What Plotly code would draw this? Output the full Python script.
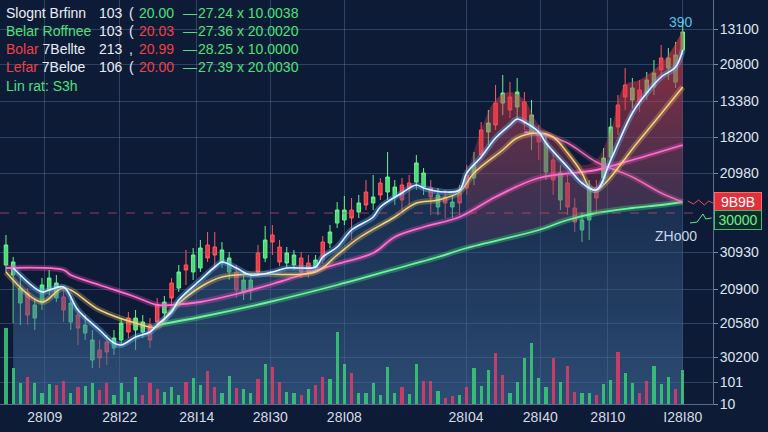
import plotly.graph_objects as go

# ---------------------------------------------------------------- data
# candles (index on x, price on y)
opens = [139, 129, 101, 111, 86, 101, 114, 106, 107, 82,
         89, 71, 44, 54, 62, 56, 64, 86, 74, 72,
         79, 99, 91, 121, 116, 139, 132, 136, 159, 157,
         141, 132, 132, 112, 114, 151, 146, 169, 157, 141,
         139, 146, 141, 136, 162, 161, 181, 184, 194, 192,
         212, 201, 221, 212, 207, 219, 221, 222, 217, 216,
         197, 207, 197, 211, 229, 226, 274, 272, 301, 301,
         307, 297, 302, 271, 272, 232, 244, 204, 221, 196,
         174, 184, 216, 226, 247, 299, 319, 304, 314, 311,
         317, 346, 336, 322, 354]
closes = [159, 142, 116, 89, 99, 119, 126, 121, 94, 101,
          76, 79, 64, 46, 52, 66, 81, 72, 86, 82,
          64, 82, 102, 106, 132, 134, 149, 156, 146, 149,
          154, 146, 114, 124, 124, 132, 164, 162, 142, 151,
          149, 132, 132, 144, 144, 172, 194, 194, 186, 201,
          199, 207, 209, 227, 217, 204, 216, 241, 231, 207,
          209, 201, 202, 201, 216, 239, 249, 281, 279, 311,
          294, 312, 281, 289, 262, 261, 224, 231, 197, 182,
          184, 216, 206, 246, 277, 277, 307, 316, 302, 324,
          331, 334, 346, 349, 372]
highs = [169, 147, 129, 116, 106, 126, 134, 129, 114, 108,
         96, 89, 74, 64, 69, 74, 86, 92, 94, 89,
         86, 106, 108, 126, 139, 154, 156, 164, 172, 172,
         162, 152, 139, 132, 130, 159, 178, 179, 164, 157,
         154, 152, 149, 149, 168, 179, 202, 208, 206, 209,
         224, 229, 226, 252, 224, 226, 229, 249, 236, 224,
         216, 214, 209, 219, 239, 252, 282, 294, 319, 329,
         322, 326, 312, 304, 279, 269, 254, 239, 229, 206,
         192, 224, 224, 256, 286, 309, 336, 326, 324, 332,
         344, 359, 356, 362, 384]
lows = [132, 81, 79, 79, 74, 94, 109, 102, 82, 74,
        59, 64, 36, 36, 39, 49, 59, 66, 54, 66,
        56, 76, 86, 99, 112, 119, 124, 132, 142, 136,
        136, 124, 106, 104, 104, 128, 142, 149, 138, 136,
        134, 126, 126, 132, 140, 156, 176, 179, 164, 186,
        194, 194, 204, 204, 199, 194, 199, 214, 209, 189,
        189, 186, 186, 189, 209, 219, 244, 259, 274, 289,
        286, 284, 274, 254, 244, 224, 209, 194, 189, 172,
        162, 164, 192, 219, 242, 269, 294, 296, 292, 304,
        309, 326, 324, 316, 349]
candle_x = list(range(len(opens)))

volumes = [76, 36, 21, 27, 21, 11, 20, 19, 23, 11,
           17, 18, 21, 14, 21, 9, 21, 12, 27, 9,
           21, 15, 12, 17, 9, 22, 26, 19, 33, 17,
           11, 28, 16, 15, 11, 25, 40, 37, 22, 12,
           11, 9, 15, 19, 27, 25, 72, 40, 31, 11,
           11, 21, 9, 37, 11, 17, 10, 40, 23, 23,
           13, 6, 8, 9, 17, 36, 18, 34, 51, 29,
           11, 22, 46, 61, 26, 17, 46, 22, 38, 12,
           11, 11, 9, 20, 24, 52, 31, 21, 11, 23,
           38, 20, 27, 15, 34]
volume_side = list("GGGRGGGRRG" "RGGRRGGGGR" "RRGGGRGGRR" "GGRGGRGRRG" "GRGRRGGGRG"
                   "GGGGGRGGRR" "GRRGRGGGRR" "GGGGGGRGRR" "GGRGGRGGRR" "GGGRG")

# moving-average style lines
fast_x = [1, 5, 6, 8, 10, 13, 15, 16, 18, 20, 21, 23, 24, 27, 29, 30, 32, 34, 37, 39,
          41, 43, 44, 46, 48, 51, 52, 55, 57, 58, 61, 63, 64, 66, 68, 70, 71, 72, 74, 75,
          78, 80, 82, 84, 87, 89, 91, 93, 94]
fast_y = [136, 112, 114, 117, 94, 74, 61, 59, 67, 72, 79, 92, 104, 124, 137, 142, 136, 129, 132, 136,
          136, 137, 147, 157, 174, 187, 197, 211, 219, 216, 212, 214, 231, 247, 266, 279, 285, 282, 272, 261,
          237, 221, 214, 244, 291, 311, 327, 337, 354]
mid_x = [0, 5, 8, 13, 18, 21, 23, 27, 30, 34, 43, 46, 49, 54, 57, 60, 63, 65, 69, 71,
         74, 76, 78, 80, 81, 82, 88, 94]
mid_y = [132, 102, 116, 94, 81, 77, 94, 117, 127, 130, 132, 149, 166, 187, 201, 204, 212, 231, 254, 266,
         271, 267, 251, 231, 217, 214, 264, 317]
slow_x = [0, 8, 9, 13, 18, 21, 23, 27, 32, 37, 41, 46, 51, 54, 58, 63, 68, 74, 82, 87, 94]
slow_y = [136, 134, 129, 119, 107, 99, 99, 102, 110, 120, 129, 140, 151, 167, 177, 187, 207, 226, 234, 244, 259]
sig_x = [72, 73, 75, 78, 82, 87, 91, 94]
sig_y = [272, 271, 269, 261, 242, 227, 211, 202]
long_x = [21, 27, 36, 46, 56, 60, 64, 74, 78, 82, 87, 91, 94]
long_y = [79, 87, 101, 119, 139, 147, 156, 174, 184, 191, 196, 199, 202]

# red shaded zone on the right
red_x = [64, 66, 68, 70, 72, 74, 76, 78, 80, 82, 84, 86, 88, 90, 92, 94]
red_top = [229, 274, 304, 312, 304, 279, 269, 254, 239, 244, 274, 319, 324, 334, 349, 374]
red_bottom = [156, 160, 165, 169, 172, 174, 179, 184, 187, 191, 193, 195, 197, 198, 200, 202]

# little tails right of the last candle
tail_red_x = [94.7, 95.5, 96.2, 97, 97.6, 98.2]
tail_red_y = [203, 200, 204, 199, 203, 201]
tail_green_x = [95, 96, 96.4, 96.8, 97.2, 98]
tail_green_y = [181, 182, 186, 190, 185, 186]

alert_level = 191

# axes
price_ticks = [375, 340, 303, 267, 231, 152, 115, 81, 47, 22, 0]
price_labels = ["13100", "20800", "13380", "18200", "20980", "30930", "20900", "20580", "30200", "101", "10"]
date_ticks = [5.4, 15.8, 26.5, 36.7, 47, 63.9, 74.2, 83.6, 94]
date_labels = ["28I09", "28I22", "28I14", "28I30", "28I08", "28I04", "28I40", "28I10", "I28I80"]

# legend block, top left
WHITE, GREEN, RED = "#e8eef8", "#4ee07a", "#f0404a"
name_a = ["Slognt Brfinn", "Belar Roffnee", "Bolar", "Lefar", "Lin rat: S3h"]
name_a_color = [WHITE, GREEN, RED, RED, GREEN]
name_b = ["", "", "7Bellte", "7Beloe", ""]
counts = ["103", "103", "213", "106"]
marks = ["(", "(", ",", "("]
first_vals = ["20.00", "20.03", "20.99", "20.00"]
first_colors = [GREEN, RED, RED, RED]
second_vals = ["27.24 x 10.0038", "27.36 x 20.0020", "28.25 x 10.0000", "27.39 x 20.0030"]

# ---------------------------------------------------------------- figure
FONT = "Liberation Sans"
BG = "#0e1b36"
PLOT_W, PLOT_H = 713, 404

fig = go.Figure()

# soft blue area under the price
fig.add_trace(go.Scatter(x=fast_x, y=fast_y, mode="lines", line=dict(width=0, shape="spline"),
                         fill="tozeroy",
                         fillgradient=dict(type="vertical", start=0, stop=360,
                                           colorscale=[[0, "rgba(66,110,158,0.60)"],
                                                       [1, "rgba(30,58,100,0.20)"]]),
                         hoverinfo="skip", showlegend=False))

# red zone
fig.add_trace(go.Scatter(x=red_x, y=red_bottom, mode="lines", line=dict(width=0, shape="spline"),
                         hoverinfo="skip", showlegend=False))
fig.add_trace(go.Scatter(x=red_x, y=red_top, mode="lines", line=dict(width=0, shape="spline"),
                         fill="tonexty",
                         fillgradient=dict(type="vertical", start=150, stop=374,
                                           colorscale=[[0, "rgba(190,60,90,0.08)"],
                                                       [1, "rgba(220,55,65,0.65)"]]),
                         hoverinfo="skip", showlegend=False))

fig.add_trace(go.Candlestick(x=candle_x, open=opens, high=highs, low=lows, close=closes,
                             increasing=dict(line=dict(color="#6af292", width=1), fillcolor="#4cd976"),
                             decreasing=dict(line=dict(color="#ff5862", width=1), fillcolor="#e83a44"),
                             whiskerwidth=0, showlegend=False, hoverinfo="skip"))

# glowing lines: wide faint pass then thin core
lines = [
    (long_x, long_y, "rgba(80,240,130,0.30)", "#6cf59a", 1.8),
    (slow_x, slow_y, "rgba(255,80,190,0.30)", "#ff6fcf", 1.8),
    (sig_x, sig_y, "rgba(240,90,170,0.25)", "#ee6cb6", 1.5),
    (mid_x, mid_y, "rgba(240,200,100,0.28)", "#f3d47e", 1.5),
    (fast_x, fast_y, "rgba(90,170,255,0.40)", "#e6f4ff", 1.6),
]
for xs, ys, glow, core, w in lines:
    fig.add_trace(go.Scatter(x=xs, y=ys, mode="lines", line=dict(color=glow, width=6, shape="spline"),
                             hoverinfo="skip", showlegend=False))
    fig.add_trace(go.Scatter(x=xs, y=ys, mode="lines", line=dict(color=core, width=w, shape="spline"),
                             hoverinfo="skip", showlegend=False))

fig.add_trace(go.Scatter(x=tail_red_x, y=tail_red_y, mode="lines", line=dict(color="#e8505a", width=1),
                         hoverinfo="skip", showlegend=False))
fig.add_trace(go.Scatter(x=tail_green_x, y=tail_green_y, mode="lines", line=dict(color="#5ee88a", width=1),
                         hoverinfo="skip", showlegend=False))

bar_colors = ["rgba(60,205,120,0.85)" if s == "G" else "rgba(225,60,105,0.85)" for s in volume_side]
fig.add_trace(go.Bar(x=candle_x, y=volumes, marker=dict(color=bar_colors, line=dict(width=0)),
                     width=0.45, yaxis="y2", hoverinfo="skip", showlegend=False))

fig.add_shape(type="line", xref="paper", x0=0, x1=0.985, yref="y", y0=alert_level, y1=alert_level,
              line=dict(color="rgba(215,85,105,0.65)", width=1.2, dash="dash"))

# legend block
def px_x(px):
    return px / PLOT_W


def px_y(py):
    return 1 - py / PLOT_H


row_y = [13, 31, 49, 67, 86]
for i, name in enumerate(name_a):
    txt = "<span style='color:%s'>%s</span>" % (name_a_color[i], name)
    if name_b[i]:
        txt += " <span style='color:%s'>%s</span>" % (WHITE, name_b[i])
    fig.add_annotation(x=px_x(4), y=px_y(row_y[i]), xref="paper", yref="paper", text=txt,
                       showarrow=False, xanchor="left", yanchor="middle",
                       font=dict(family=FONT, size=14))
for i in range(len(counts)):
    cells = [(97, counts[i], WHITE), (127, marks[i], WHITE), (137, first_vals[i], first_colors[i]),
             (181, "—", GREEN), (196, second_vals[i], GREEN)]
    for px, txt, col in cells:
        fig.add_annotation(x=px_x(px), y=px_y(row_y[i]), xref="paper", yref="paper", text=txt,
                           showarrow=False, xanchor="left", yanchor="middle",
                           font=dict(family=FONT, size=14, color=col))

fig.add_annotation(x=px_x(695), y=px_y(12), xref="paper", yref="paper", text="390", showarrow=False,
                   font=dict(family=FONT, size=14, color="#4fc3e8"))
fig.add_annotation(x=93, y=168, xref="x", yref="y", text="ZHo00", showarrow=False,
                   font=dict(family=FONT, size=14, color="#c8d8ea"))
fig.add_annotation(x=1.0, y=202, xref="paper", yref="y", text="9B9B", showarrow=False,
                   xanchor="left", xshift=1, width=44, bgcolor="#e0303c", bordercolor="#ff6a6a",
                   borderwidth=1, borderpad=1, font=dict(family=FONT, size=14, color="#ffffff"))
fig.add_annotation(x=1.0, y=184, xref="paper", yref="y", text="30000", showarrow=False,
                   xanchor="left", xshift=1, width=44, bgcolor="#0f2a2c", bordercolor="#3cc070",
                   borderwidth=1, borderpad=1, font=dict(family=FONT, size=14, color="#6af08a"))

grid = "rgba(110,140,185,0.35)"
fig.update_layout(
    width=768, height=432,
    margin=dict(l=0, r=55, t=0, b=28),
    paper_bgcolor=BG, plot_bgcolor=BG,
    font=dict(family=FONT, color="#dfe5ef"),
    showlegend=False,
    bargap=0,
    xaxis=dict(range=[-0.83, 98.2], tickvals=date_ticks, ticktext=date_labels,
               showgrid=True, gridcolor=grid, gridwidth=1, zeroline=False,
               showline=True, linecolor="rgba(140,160,195,0.6)",
               tickfont=dict(size=14, color="#d5dbe6"), rangeslider=dict(visible=False)),
    yaxis=dict(range=[0, 404], side="right", tickvals=price_ticks, ticktext=price_labels,
               showgrid=True, gridcolor=grid, gridwidth=1, zeroline=False,
               showline=True, linecolor="rgba(150,170,200,0.6)",
               ticks="outside", ticklen=4, tickcolor="rgba(170,185,210,0.7)",
               ticklabelstandoff=-1,
               tickfont=dict(size=14, color="#dfe5ef")),
    yaxis2=dict(range=[0, 404], overlaying="y", visible=False),
)

# drop the page's default 8px body margin so the figure sits at the window corner
fig.write_html("out.html", config={"displayModeBar": False},
               post_script="document.body.style.margin='0';document.body.style.background='%s';" % BG)
